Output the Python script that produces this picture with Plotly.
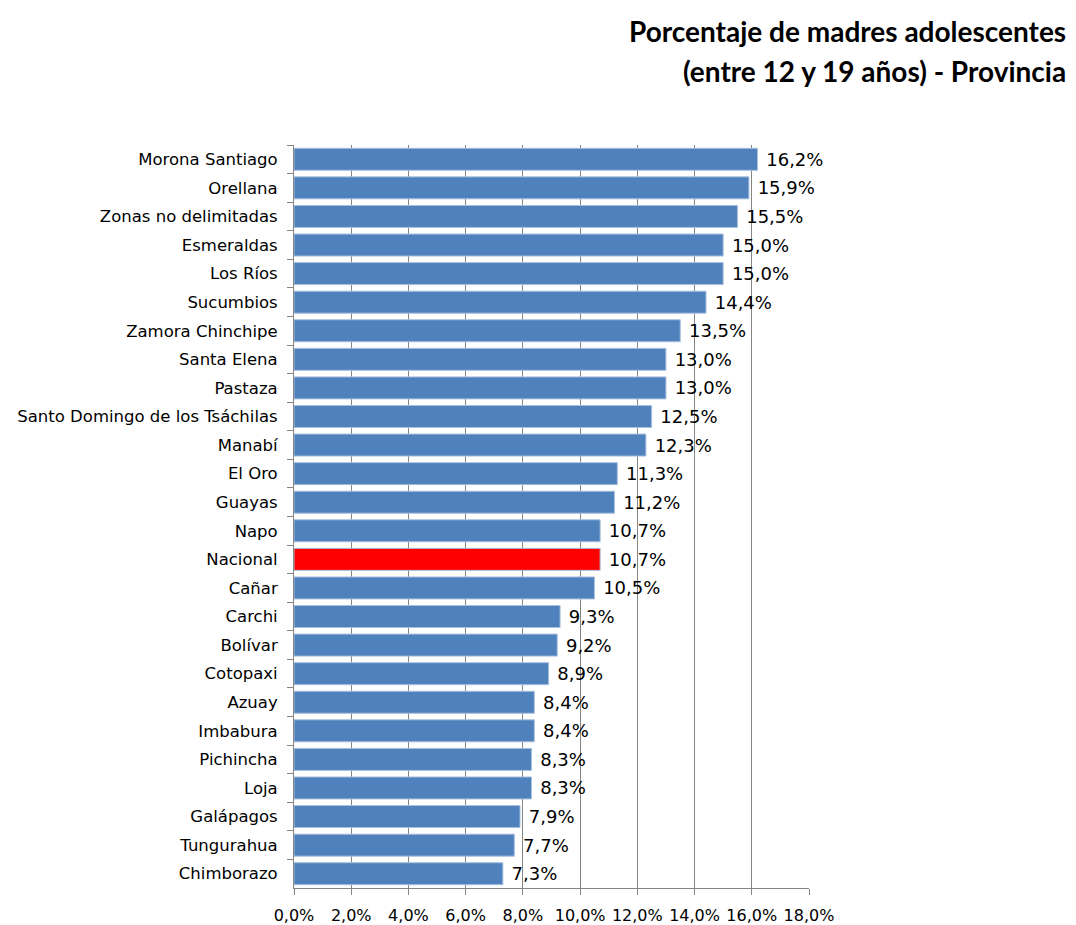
import plotly.graph_objects as go

provincias = ["Morona Santiago", "Orellana", "Zonas no delimitadas", "Esmeraldas", "Los Ríos",
              "Sucumbios", "Zamora Chinchipe", "Santa Elena", "Pastaza",
              "Santo Domingo de los Tsáchilas", "Manabí", "El Oro", "Guayas", "Napo",
              "Nacional", "Cañar", "Carchi", "Bolívar", "Cotopaxi", "Azuay", "Imbabura",
              "Pichincha", "Loja", "Galápagos", "Tungurahua", "Chimborazo"]
porcentajes = [16.2, 15.9, 15.5, 15.0, 15.0, 14.4, 13.5, 13.0, 13.0, 12.5, 12.3, 11.3, 11.2,
               10.7, 10.7, 10.5, 9.3, 9.2, 8.9, 8.4, 8.4, 8.3, 8.3, 7.9, 7.7, 7.3]
tick_vals = [0, 2, 4, 6, 8, 10, 12, 14, 16, 18]
tick_text = ["0,0%", "2,0%", "4,0%", "6,0%", "8,0%", "10,0%", "12,0%", "14,0%", "16,0%", "18,0%"]
titulo_1 = "Porcentaje de madres adolescentes"
titulo_2 = "(entre 12 y 19 años) - Provincia"

colores = ["#FF0000" if p == "Nacional" else "#4F81BD" for p in provincias]

fig = go.Figure(go.Bar(
    x=porcentajes, y=provincias, orientation="h",
    marker=dict(color=colores, line=dict(color="#A9C0DE", width=1)),
    text=porcentajes, texttemplate=" %{x:.1f}%", textposition="outside",
    textfont=dict(family="DejaVu Sans", size=18, color="#000000"),
    cliponaxis=False,
))

fig.update_layout(
    width=1076, height=925,
    margin=dict(l=294, r=267, t=145, b=37, autoexpand=False),
    paper_bgcolor="white", plot_bgcolor="white",
    separators=",.",
    bargap=0.23,
    showlegend=False,
    font=dict(family="DejaVu Sans", size=16, color="#000000"),
    annotations=[
        dict(text="<b>" + titulo_1 + "</b>", x=1.503, y=1.154, xref="paper", yref="paper",
             xanchor="right", yanchor="middle", showarrow=False,
             font=dict(family="Lato", size=28, color="#000000")),
        dict(text="<b>" + titulo_2 + "</b>", x=1.503, y=1.099, xref="paper", yref="paper",
             xanchor="right", yanchor="middle", showarrow=False,
             font=dict(family="Lato", size=28, color="#000000")),
    ],
)

fig.update_xaxes(
    range=[0, 18], tickvals=tick_vals, ticktext=tick_text, automargin=False,
    showgrid=True, gridcolor="#858585", gridwidth=1,
    showline=True, linecolor="#858585", linewidth=1,
    ticks="outside", ticklen=6, tickcolor="#858585", ticklabelstandoff=7,
    tickfont=dict(family="DejaVu Sans", size=16, color="#000000"),
    zeroline=False, fixedrange=True,
)
fig.update_yaxes(
    autorange="reversed", showline=True, linecolor="#858585", linewidth=1,
    ticks="outside", ticklen=6, tickcolor="#858585", tickson="boundaries",
    ticklabelstandoff=12, automargin=False,
    tickfont=dict(family="DejaVu Sans", size=16.5, color="#000000"),
    showgrid=False, fixedrange=True,
)

fig.write_html("out.html")
